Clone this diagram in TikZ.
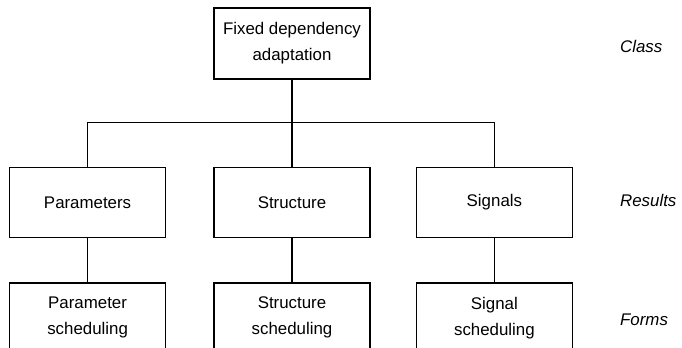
\documentclass[tikz,border=0pt]{standalone}
\usepackage{fontspec}
\setmainfont{Liberation Sans}
\usetikzlibrary{positioning}

\begin{document}
\begin{tikzpicture}[
    box/.style={draw, line width=1pt, minimum width=3.9cm, minimum height=1.75cm,
      align=center, inner sep=0pt, font=\fontsize{12}{18.5}\selectfont},
    level/.style={anchor=west, font=\fontsize{12}{14}\selectfont\itshape},
    link/.style={line width=1pt}
  ]
  \useasboundingbox (0,0) rectangle (17.05,-8.675);
  \node [box, minimum height=1.775cm] (fixed) at (7.3,-1.0875) {Fixed dependency\\adaptation};
  \coordinate [below=1.075cm of fixed.south] (bus);
  \node [box, below=2.175cm of fixed] (struct) {Structure};
  \node [box, left=1.175cm of struct] (params) {Parameters};
  \node [box, right=1.125cm of struct] (signals) {Signals};
  \node [box, below=1.1cm of params] (paramsched) {Parameter\\scheduling};
  \node [box, below=1.1cm of struct] (structsched) {Structure\\scheduling};
  \node [box, below=1.1cm of signals] (signalsched) {Signal\\scheduling};
  \node [level] (class) at (15.38,-1.15) {Class};
  \node [level] (results) at (15.38,-5.0) {Results};
  \node [level] (forms) at (15.38,-8.0) {Forms};
  \draw [link] (fixed) -- (struct);
  \draw [link] (params.north) |- (bus) -| (signals.north);
  \draw [link] (params) -- (paramsched);
  \draw [link] (struct) -- (structsched);
  \draw [link] (signals) -- (signalsched);
\end{tikzpicture}
\end{document}
